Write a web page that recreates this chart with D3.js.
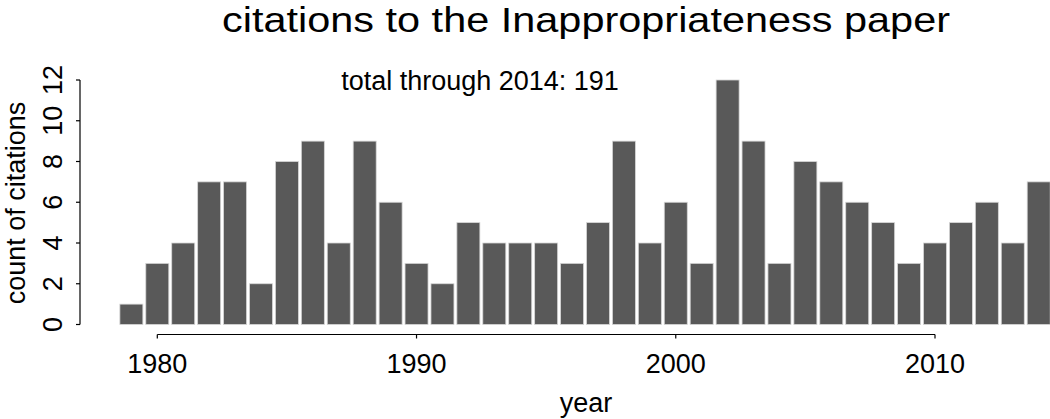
<!DOCTYPE html>
<html lang="en">
<head>
<meta charset="UTF-8">
<title>citations</title>
<script src="https://cdn.jsdelivr.net/npm/d3@7"></script>
<style>
  body { margin: 0; background: #fff; }
  svg { display: block; font-family: "Liberation Sans", Arial, sans-serif; }
</style>
</head>
<body>
<div id="chart"></div>
<script>
// citations per year
const years = d3.range(1979, 2015);
const counts = [1, 3, 4, 7, 7, 2, 8, 9, 4, 9,
                6, 3, 2, 5, 4, 4, 4, 3, 5, 9,
                4, 6, 3, 12, 9, 3, 8, 7, 6, 5,
                3, 4, 5, 6, 4, 7];
const xTicks = [1980, 1990, 2000, 2010];
const yTicks = [0, 2, 4, 6, 8, 10, 12];

const width = 1050, height = 419;
const svg = d3.select("#chart").append("svg")
    .attr("width", width).attr("height", height);

const x = d3.scaleLinear().domain([1980, 2010]).range([157.3, 935]);
const y = d3.scaleLinear().domain([0, 12]).range([324.5, 80]);
const barW = 23;

// bars
svg.append("g").selectAll("rect")
  .data(years)
  .enter().append("rect")
    .attr("x", d => x(d) - barW / 2)
    .attr("y", (d, i) => y(counts[i]))
    .attr("width", barW)
    .attr("height", (d, i) => y(0) - y(counts[i]))
    .attr("fill", "#595959")
    .attr("stroke", "#d6d6d6")
    .attr("stroke-width", 0.8);

// y axis
const yAxis = svg.append("g").attr("transform", "translate(80,0)");
yAxis.append("line")
    .attr("y1", y(0)).attr("y2", y(12))
    .attr("stroke", "#000").attr("stroke-width", 1.2);
yAxis.selectAll("line.tick").data(yTicks).enter().append("line")
    .attr("class", "tick")
    .attr("x1", -4).attr("x2", 0)
    .attr("y1", d => y(d)).attr("y2", d => y(d))
    .attr("stroke", "#000").attr("stroke-width", 1.2);
yAxis.selectAll("text").data(yTicks).enter().append("text")
    .attr("transform", d => `translate(-18,${y(d)}) rotate(-90)`)
    .attr("text-anchor", "middle")
    .style("font-size", "27px")
    .text(d => d);

// x axis
const xAxis = svg.append("g").attr("transform", "translate(0,334.5)");
xAxis.append("line")
    .attr("x1", x(1980)).attr("x2", x(2010))
    .attr("stroke", "#000").attr("stroke-width", 1.2);
xAxis.selectAll("line.tick").data(xTicks).enter().append("line")
    .attr("class", "tick")
    .attr("x1", d => x(d)).attr("x2", d => x(d))
    .attr("y1", 0).attr("y2", 4)
    .attr("stroke", "#000").attr("stroke-width", 1.2);
xAxis.selectAll("text").data(xTicks).enter().append("text")
    .attr("x", d => x(d))
    .attr("y", 38.5)
    .attr("text-anchor", "middle")
    .style("font-size", "27px")
    .text(d => d);

// titles
svg.append("text")
    .attr("x", 586).attr("y", 32)
    .attr("text-anchor", "middle")
    .attr("textLength", 728).attr("lengthAdjust", "spacingAndGlyphs")
    .style("font-size", "35px")
    .text("citations to the Inappropriateness paper");

svg.append("text")
    .attr("x", 480).attr("y", 90)
    .attr("text-anchor", "middle")
    .style("font-size", "27px")
    .text("total through 2014: " + d3.sum(counts));

svg.append("text")
    .attr("x", 586).attr("y", 412)
    .attr("text-anchor", "middle")
    .style("font-size", "27px")
    .text("year");

svg.append("text")
    .attr("transform", "translate(25,203) rotate(-90)")
    .attr("text-anchor", "middle")
    .style("font-size", "27px")
    .text("count of citations");
</script>
</body>
</html>
